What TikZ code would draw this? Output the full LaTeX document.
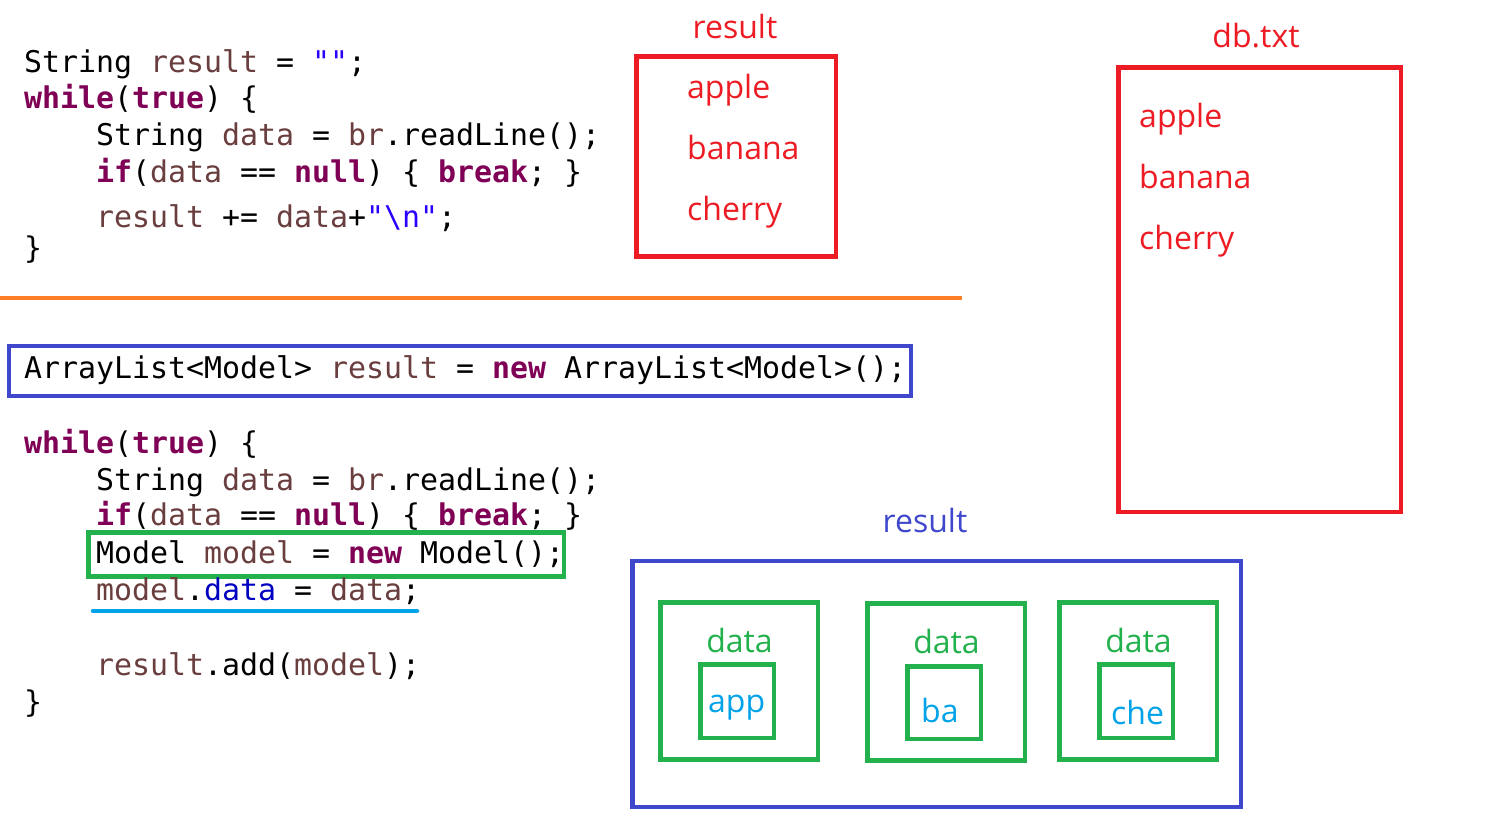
\documentclass[tikz,border=0pt]{standalone}
\usepackage{fontspec}
\setmainfont{Open Sans}
\newfontfamily\codefont{DejaVu Sans Mono}
\newfontfamily\labfont{Open Sans}
\definecolor{kwc}{HTML}{7F0055}
\definecolor{varc}{HTML}{6A3E3E}
\definecolor{strc}{HTML}{2A00FF}
\definecolor{fldc}{HTML}{0000C0}
\definecolor{redc}{HTML}{ED1C24}
\definecolor{bluec}{HTML}{3F48CC}
\definecolor{greenc}{HTML}{22B14C}
\definecolor{cyanc}{HTML}{00A2E8}
\definecolor{orangec}{HTML}{FF7F27}
\newcommand\ckw[1]{\textcolor{kwc}{\bfseries #1}}
\newcommand\cvar[1]{\textcolor{varc}{#1}}
\newcommand\cstr[1]{\textcolor{strc}{#1}}
\newcommand\cfld[1]{\textcolor{fldc}{#1}}
\tikzset{
  code/.style={anchor=base west, inner sep=0pt, font=\codefont\fontsize{29.9}{36}\selectfont},
  lab/.style={anchor=base, inner sep=0pt, font=\labfont\fontsize{32}{38}\selectfont},
  labw/.style={anchor=base west, inner sep=0pt, font=\labfont\fontsize{32}{38}\selectfont},
  frame/.style={draw=#1, line width=4.8pt},
}
\begin{document}
\begin{tikzpicture}[x=1pt,y=-1pt]
\useasboundingbox (0,0) rectangle (1508,820);
\fill[white] (0,0) rectangle (1508,820);

% top code
\node[code] (t1) at (24,72) {String \cvar{result} = \cstr{""};};
\node[code] (t2) at (24,108) {\ckw{while}(\ckw{true}) \{};
\node[code] (t3) at (96,145) {String \cvar{data} = \cvar{br}.readLine();};
\node[code] (t4) at (96,182) {\ckw{if}(\cvar{data} == \ckw{null}) \{ \ckw{break}; \}};
\node[code] (t5) at (96,227) {\cvar{result} += \cvar{data}+\cstr{"\textbackslash n"};};
\node[code] (t6) at (24,258) {\}};

% separator
\coordinate (sepL) at (0,298);
\coordinate (sepR) at (962,298);
\draw[orangec, line width=4.8pt] (sepL) -- (sepR);

% bottom code
\draw[frame=bluec] (9,346) rectangle (911,396);
\node[code] (b0) at (24,378) {ArrayList<Model> \cvar{result} = \ckw{new} ArrayList<Model>();};
\node[code] (b1) at (24,453) {\ckw{while}(\ckw{true}) \{};
\node[code] (b2) at (96,490) {String \cvar{data} = \cvar{br}.readLine();};
\node[code] (b3) at (96,525) {\ckw{if}(\cvar{data} == \ckw{null}) \{ \ckw{break}; \}};
\draw[frame=greenc] (88.5,532.5) rectangle (564,576.5);
\node[code] (b4) at (96,563) {Model \cvar{model} = \ckw{new} Model();};
\node[code] (b5) at (96,600) {\cvar{model}.\cfld{data} = \cvar{data};};
\coordinate (ulL) at (93,611);
\coordinate (ulR) at (417,611);
\draw[cyanc, line width=4.5pt, line cap=round] (ulL) -- (ulR);
\node[code] (b6) at (96,675) {\cvar{result}.add(\cvar{model});};
\node[code] (b7) at (24,712) {\}};

% top red result box
\draw[frame=redc] (636.5,56.5) rectangle (836,256.5);
\node[lab, text=redc] (rt) at (735,38) {result};
\node[labw, text=redc] (r1) at (687,98) {apple};
\node[labw, text=redc] (r2) at (687,159) {banana};
\node[labw, text=redc] (r3) at (687,220) {cherry};

% db.txt box
\draw[frame=redc] (1118.5,67.5) rectangle (1401,512);
\node[lab, text=redc] (dt) at (1256,47) {db.txt};
\node[labw, text=redc] (d1) at (1139,127) {apple};
\node[labw, text=redc] (d2) at (1139,188) {banana};
\node[labw, text=redc] (d3) at (1139,249) {cherry};

% bottom blue result box
\draw[frame=bluec] (632.5,561) rectangle (1241,807);
\node[lab, text=bluec] (bt) at (925,532) {result};

\draw[frame=greenc] (660.5,602.5) rectangle (818,759.5);
\draw[frame=greenc] (700.5,664.5) rectangle (774,738);
\node[lab, text=greenc] (g1) at (739.5,652) {data};
\node[labw, text=cyanc] (c1) at (708,712) {app};

\draw[frame=greenc] (867.5,603.5) rectangle (1025,760.5);
\draw[frame=greenc] (907.5,666.5) rectangle (981,739);
\node[lab, text=greenc] (g2) at (946.5,653) {data};
\node[labw, text=cyanc] (c2) at (921,722) {ba};

\draw[frame=greenc] (1059.5,602.5) rectangle (1217,759.5);
\draw[frame=greenc] (1099.5,664.5) rectangle (1173,738);
\node[lab, text=greenc] (g3) at (1138.5,652) {data};
\node[labw, text=cyanc] (c3) at (1111,724) {che};
\end{tikzpicture}
\end{document}
